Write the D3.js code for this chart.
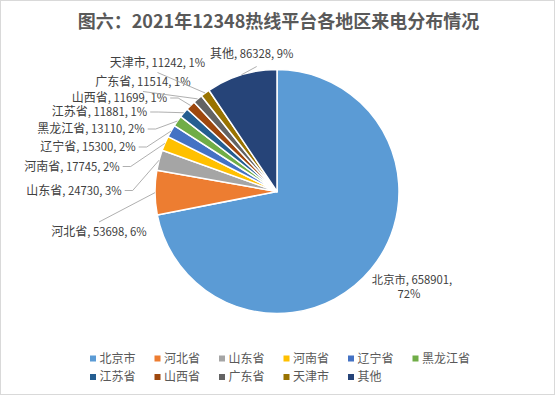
<!DOCTYPE html>
<html><head><meta charset="utf-8">
<script src="https://cdn.jsdelivr.net/npm/d3@7"></script>
<style>
html,body{margin:0;padding:0;background:#fff;}
text{font-family:"Noto Sans CJK SC","Microsoft YaHei",sans-serif;}
</style></head>
<body><svg id="chart" width="556" height="396"></svg>
<script>
const titleText = "图六：2021年12348热线平台各地区来电分布情况";
const regions = ["北京市","河北省","山东省","河南省","辽宁省","黑龙江省","江苏省","山西省","广东省","天津市","其他"];
const calls = [658901,53698,24730,17745,15300,13110,11881,11699,11514,11242,86328];
const percents = ["72%","6%","3%","2%","2%","2%","1%","1%","1%","1%","9%"];
const colors = ["#5B9BD5","#ED7D31","#A5A5A5","#FFC000","#4472C4","#70AD47","#255E91","#9E480E","#636363","#997300","#264478"];

// layout (label centres, relative to pie centre)
const cx = 277, cy = 191.5, R = 122;
const labelOffsets = [[135,88],[-178,40.5],[-203,-1],[-205,-25],[-189,-44.5],[-186,-62.5],[-177.5,-79.5],[-157.5,-93.5],[-134,-110],[-119.5,-129],[-25.3,-137.5]];

const svg = d3.select("#chart");
svg.append("rect").attr("x",0.5).attr("y",0.5).attr("width",554).attr("height",394)
  .attr("fill","#fff").attr("stroke","#d9d9d9");

svg.append("text").attr("x",278.5).attr("y",27.5).attr("text-anchor","middle")
  .attr("font-size",18).attr("font-weight","bold").attr("fill","#595959").text(titleText);

const data = regions.map((r,i)=>({name:r,value:calls[i],pct:percents[i],color:colors[i],off:labelOffsets[i]}));
const pie = d3.pie().value(d=>d.value).sort(null);
const arcs = pie(data);
const arc = d3.arc().innerRadius(0).outerRadius(R);

const g = svg.append("g").attr("transform",`translate(${cx},${cy})`);
g.selectAll("path.slice").data(arcs).join("path").attr("class","slice")
  .attr("d",arc).attr("fill",d=>d.data.color).attr("stroke","#fff").attr("stroke-width",1.5).attr("stroke-linejoin","round");

// labels
const lg = g.append("g");
arcs.forEach((a,i)=>{
  const mid=(a.startAngle+a.endAngle)/2;
  const px=R*Math.sin(mid), py=-R*Math.cos(mid);
  const [lx,ly]=a.data.off;
  const t=lg.append("text").attr("x",lx).attr("text-anchor","middle").attr("font-size",11.3).attr("fill","#404040");
  if(i===0){
    lg.append("text").attr("x",lx).attr("y",ly+4).attr("text-anchor","middle").attr("font-size",11.3).attr("fill","#404040")
      .text(`${a.data.name}, ${a.data.value},`);
    t.attr("x",lx-3).attr("y",ly+18.5).text(a.data.pct);
    return;
  }
  t.attr("y",ly+4);
  t.append("tspan").attr("font-size",12).text(a.data.name);
  t.append("tspan").text(`, ${a.data.value}, ${a.data.pct}`);
  const bb=t.node().getBBox();
  const right=bb.x+bb.width;
  let pts;
  if(px-right>15){
    pts=[[right+3,ly],[right+11,ly],[px,py]];
  } else if(py>ly){
    pts=[[lx-(i===10?-5:0),ly+(i===10?12.5:10)],[px,py]];
  } else {
    pts=[[lx,ly-10],[px,py]];
  }
  lg.append("path").attr("d",d3.line()(pts)).attr("fill","none").attr("stroke","#a6a6a6").attr("stroke-width",0.9);
});

// legend
const legend = svg.append("g");
data.forEach((d,i)=>{
  const row=Math.floor(i/6), col=i%6;
  const x=90+col*64.5, y=358.5+row*18.5;
  const it=legend.append("g").attr("transform",`translate(${x},${y})`);
  it.append("rect").attr("x",0).attr("y",-3).attr("width",6).attr("height",6).attr("fill",d.color);
  it.append("text").attr("x",9.5).attr("y",4.3).attr("font-size",12).attr("fill","#595959").text(d.name);
});
</script></body></html>
